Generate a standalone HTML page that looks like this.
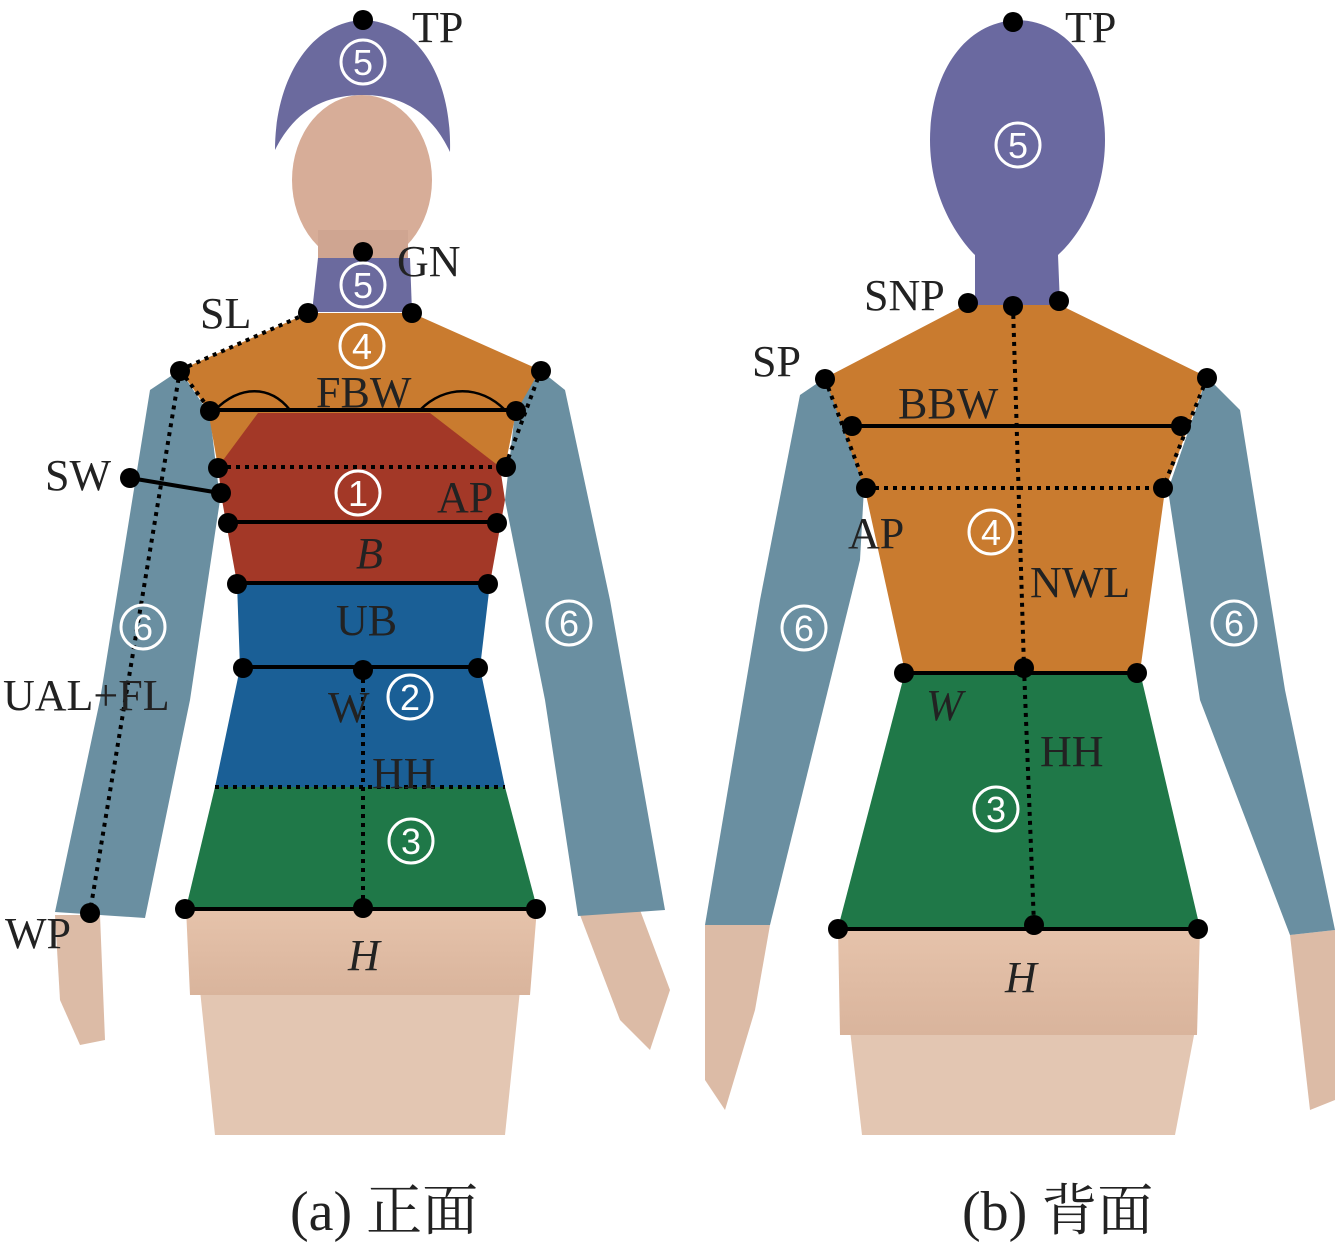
<!DOCTYPE html>
<html><head><meta charset="utf-8"><style>
html,body{margin:0;padding:0;background:#fff;}
svg{display:block;}
text{font-family:"Liberation Serif","Noto Serif CJK SC",serif;fill:#222;}
.n{font-family:"Liberation Sans","DejaVu Sans",sans-serif;fill:#fff;font-size:36px;text-anchor:middle;}
.l{font-size:44px;}
</style></head><body>
<svg width="1340" height="1242" viewBox="0 0 1340 1242" xmlns="http://www.w3.org/2000/svg">
<defs>
<linearGradient id="sk" x1="0" y1="0" x2="0" y2="1"><stop offset="0" stop-color="#e6c3ab"/><stop offset="1" stop-color="#d9b49c"/></linearGradient>
<g id="cc"><circle cx="0" cy="0" r="22" fill="none" stroke="#fff" stroke-width="3"/></g>
</defs>
<!-- FRONT -->
<path d="M200 990 L520 990 L505 1135 L215 1135 Z" fill="#e3c6b2"/>
<path d="M55 915 L100 915 L105 1040 L80 1045 L60 1000 Z" fill="#dcbba6"/>
<path d="M580 915 L640 910 L670 990 L650 1050 L620 1020 Z" fill="#dcbba6"/>
<ellipse cx="362" cy="180" rx="70" ry="85" fill="#d7ad98"/>
<rect x="318" y="230" width="90" height="40" fill="#cfa591"/>
<path d="M275 150 C275 80 310 22 363 20 C420 22 452 80 450 152 C430 110 400 95 363 95 C325 95 295 110 275 150 Z" fill="#6b6a9e"/>
<path d="M318 258 L410 258 L412 312 L312 312 Z" fill="#6b6a9e"/>
<path d="M180 370 L150 390 L100 700 L55 912 L145 918 L190 700 L220 500 L210 415 Z" fill="#6a8fa1"/>
<path d="M540 370 L565 390 L610 600 L665 910 L578 916 L545 700 L505 500 L515 412 Z" fill="#6a8fa1"/>
<path d="M308 313 L412 313 L540 370 L516 412 L505 467 L218 467 L208 410 L180 370 Z" fill="#c97b2f"/>
<path d="M258 413 L430 413 L500 467 L505 500 L490 583 L237 583 L222 500 L218 467 Z" fill="#a33827"/>
<path d="M237 583 L490 583 L480 668 L505 787 L215 787 L240 668 Z" fill="#1a5f96"/>
<path d="M215 787 L505 787 L537 908 L186 908 Z" fill="#1f7848"/>
<path d="M186 908 L537 908 L530 995 L190 995 Z" fill="url(#sk)"/>
<g stroke="#000" stroke-width="4" fill="none">
<line x1="210" y1="410" x2="516" y2="410"/>
<line x1="228" y1="522" x2="497" y2="522"/>
<line x1="237" y1="583" x2="488" y2="583"/>
<line x1="243" y1="667" x2="478" y2="667"/>
<line x1="185" y1="909" x2="536" y2="909"/>
<line x1="130" y1="478" x2="220" y2="493"/>
<path d="M215 410 C240 385 270 385 290 410 M420 410 C445 385 480 385 505 410" stroke-width="2.5"/>
</g>
<g stroke="#000" stroke-width="4" fill="none" stroke-dasharray="4 5">
<line x1="180" y1="370" x2="308" y2="313"/>
<line x1="180" y1="370" x2="90" y2="912"/>
<line x1="218" y1="467" x2="505" y2="467"/>
<line x1="541" y1="370" x2="505" y2="467"/>
<line x1="180" y1="370" x2="210" y2="410"/>
<line x1="215" y1="787" x2="505" y2="787"/>
<line x1="363" y1="670" x2="363" y2="909"/>
</g>
<g fill="#000">
<circle cx="363" cy="20" r="10"/><circle cx="363" cy="252" r="10"/>
<circle cx="308" cy="313" r="10"/><circle cx="412" cy="313" r="10"/>
<circle cx="180" cy="371" r="10"/><circle cx="541" cy="371" r="10"/>
<circle cx="210" cy="411" r="10"/><circle cx="516" cy="411" r="10"/>
<circle cx="218" cy="468" r="10"/><circle cx="506" cy="467" r="10"/>
<circle cx="130" cy="478" r="10"/><circle cx="221" cy="493" r="10"/>
<circle cx="228" cy="523" r="10"/><circle cx="497" cy="523" r="10"/>
<circle cx="237" cy="584" r="10"/><circle cx="488" cy="584" r="10"/>
<circle cx="243" cy="668" r="10"/><circle cx="363" cy="670" r="10"/><circle cx="478" cy="668" r="10"/>
<circle cx="185" cy="909" r="10"/><circle cx="363" cy="908" r="10"/><circle cx="536" cy="909" r="10"/>
<circle cx="90" cy="913" r="10"/>
</g>
<use href="#cc" x="363" y="62"/><text class="n" x="363" y="75">5</text>
<use href="#cc" x="363" y="285"/><text class="n" x="363" y="298">5</text>
<use href="#cc" x="362" y="346"/><text class="n" x="362" y="359">4</text>
<use href="#cc" x="358" y="493"/><text class="n" x="358" y="506">1</text>
<use href="#cc" x="410" y="697"/><text class="n" x="410" y="710">2</text>
<use href="#cc" x="411" y="841"/><text class="n" x="411" y="854">3</text>
<use href="#cc" x="143" y="627"/><text class="n" x="143" y="640">6</text>
<use href="#cc" x="569" y="623"/><text class="n" x="569" y="636">6</text>
<text class="l" x="412" y="42">TP</text>
<text class="l" x="397" y="276">GN</text>
<text class="l" x="200" y="328">SL</text>
<text class="l" x="316" y="407">FBW</text>
<text class="l" x="45" y="490">SW</text>
<text class="l" x="437" y="512">AP</text>
<text class="l" x="356" y="568" font-style="italic">B</text>
<text class="l" x="336" y="635">UB</text>
<text class="l" x="328" y="722">W</text>
<text class="l" x="372" y="788">HH</text>
<text class="l" x="3" y="710">UAL+FL</text>
<text class="l" x="5" y="948">WP</text>
<text class="l" x="348" y="970" font-style="italic">H</text>
<!-- BACK -->
<path d="M850 1030 L1195 1030 L1175 1135 L862 1135 Z" fill="#e3c6b2"/>
<path d="M705 925 L770 925 L755 1010 L725 1110 L705 1080 Z" fill="#dcbba6"/>
<path d="M1290 935 L1335 930 L1335 1100 L1310 1110 Z" fill="#dcbba6"/>
<path d="M1018 20 C960 22 930 80 930 140 C930 200 960 240 975 255 L975 305 L1060 305 L1058 255 C1075 240 1105 200 1105 140 C1105 80 1075 22 1018 20 Z" fill="#6a69a0"/>
<path d="M825 378 L800 395 L760 600 L705 925 L770 925 L860 560 L865 470 Z" fill="#6a8fa1"/>
<path d="M1207 377 L1168 490 L1200 700 L1290 935 L1335 930 L1285 690 L1240 410 Z" fill="#6a8fa1"/>
<path d="M965 305 L1060 305 L1207 377 L1165 490 L1140 672 L905 672 L865 490 L825 378 Z" fill="#c97b2f"/>
<path d="M905 672 L1140 672 L1200 928 L838 928 Z" fill="#1f7848"/>
<path d="M838 928 L1200 928 L1197 1035 L840 1035 Z" fill="url(#sk)"/>
<g stroke="#000" stroke-width="4" fill="none">
<line x1="852" y1="426" x2="1181" y2="426"/>
<line x1="904" y1="673" x2="1137" y2="673"/>
<line x1="838" y1="929" x2="1198" y2="929"/>
</g>
<g stroke="#000" stroke-width="4" fill="none" stroke-dasharray="4 5">
<line x1="866" y1="488" x2="1163" y2="488"/>
<line x1="825" y1="379" x2="866" y2="488"/>
<line x1="1207" y1="378" x2="1163" y2="488"/>
<line x1="1013" y1="306" x2="1024" y2="668"/>
<line x1="1024" y1="668" x2="1034" y2="925"/>
</g>
<g fill="#000">
<circle cx="1013" cy="22" r="10"/>
<circle cx="968" cy="303" r="10"/><circle cx="1013" cy="306" r="10"/><circle cx="1059" cy="301" r="10"/>
<circle cx="825" cy="379" r="10"/><circle cx="1207" cy="378" r="10"/>
<circle cx="852" cy="426" r="10"/><circle cx="1181" cy="426" r="10"/>
<circle cx="866" cy="488" r="10"/><circle cx="1163" cy="488" r="10"/>
<circle cx="904" cy="673" r="10"/><circle cx="1024" cy="668" r="10"/><circle cx="1137" cy="673" r="10"/>
<circle cx="838" cy="929" r="10"/><circle cx="1034" cy="925" r="10"/><circle cx="1198" cy="929" r="10"/>
</g>
<use href="#cc" x="1018" y="145"/><text class="n" x="1018" y="158">5</text>
<use href="#cc" x="991" y="532"/><text class="n" x="991" y="545">4</text>
<use href="#cc" x="996" y="809"/><text class="n" x="996" y="822">3</text>
<use href="#cc" x="804" y="628"/><text class="n" x="804" y="641">6</text>
<use href="#cc" x="1234" y="623"/><text class="n" x="1234" y="636">6</text>
<text class="l" x="1065" y="42">TP</text>
<text class="l" x="864" y="310">SNP</text>
<text class="l" x="752" y="376">SP</text>
<text class="l" x="898" y="418">BBW</text>
<text class="l" x="848" y="548">AP</text>
<text class="l" x="1030" y="597">NWL</text>
<text class="l" x="926" y="720" font-style="italic">W</text>
<text class="l" x="1040" y="766">HH</text>
<text class="l" x="1005" y="992" font-style="italic">H</text>
<text x="290" y="1230" font-size="56">(a) 正面</text>
<text x="962" y="1230" font-size="56">(b) 背面</text>
</svg>
</body></html>
